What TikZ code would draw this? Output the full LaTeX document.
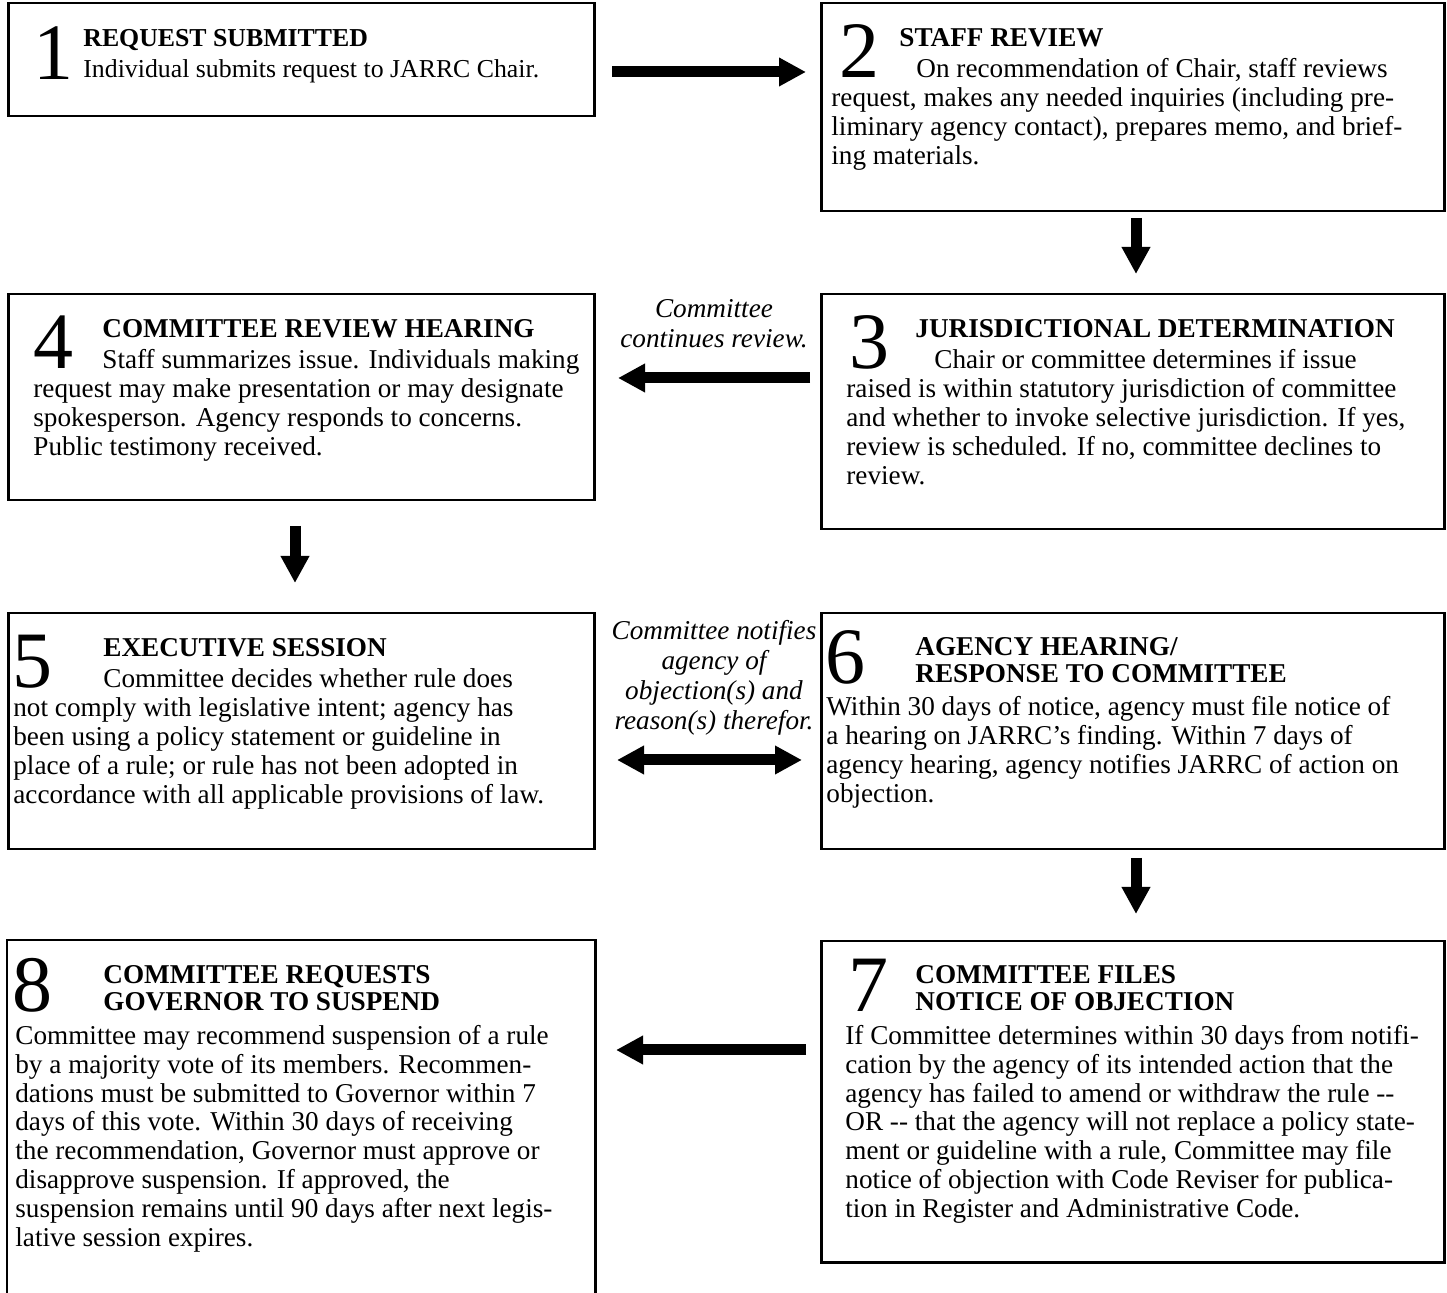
\documentclass[tikz,border=0pt]{standalone}
\usepackage{fontspec}
\setmainfont{Liberation Serif}
\usepackage{tikz}
\usetikzlibrary{arrows.meta, calc, positioning}

\newcommand{\boxfont}{\fontsize{13.6}{14.5}\selectfont}
\newcommand{\digitfont}{\fontsize{40}{40}\selectfont}
% lines of a box, baseline on the first line
\newcommand{\steplines}[1]{\begin{tabular}[t]{@{}l@{}}#1\end{tabular}}
\newcommand{\notelines}[1]{\begin{tabular}[t]{@{}c@{}}#1\end{tabular}}

\tikzset{
    stepbox/.style={rectangle, draw, line width=1.25pt, anchor=north west, inner sep=0pt},
    stepnum/.style={anchor=base west, inner sep=0pt, font=\digitfont},
    steptext/.style={anchor=base west, inner sep=0pt, font=\boxfont},
    note/.style={anchor=base, inner sep=0pt, font=\boxfont\itshape},
    bigarrow/.style={line width=5.5pt, -{Triangle[length=13.5pt, width=13.5pt]}},
    twoarrow/.style={line width=5.5pt, {Triangle[length=13.5pt, width=13.5pt]}-{Triangle[length=13.5pt, width=13.5pt]}}
}

\begin{document}
\begin{tikzpicture}[x=1pt, y=-1pt]
    \useasboundingbox (0,0) rectangle (723.5,646.5);

    % Row 1
    \node[stepbox, minimum width=293pt, minimum height=56.5pt] (b1) at (3.5,1) {};
    \node[stepnum] (n1) at ($(b1.north west)+(13,39)$) {1};
    \node[steptext, font=\fontsize{12.9}{14.5}\selectfont] (h1) at ($(b1.north west)+(38,22.5)$) {\steplines{\textbf{REQUEST SUBMITTED}\\[1pt]
        Individual submits request to JARRC Chair.}};

    \node[stepbox, minimum width=311.5pt, minimum height=104pt] (b2) at (410,1) {};
    \node[stepnum] (n2) at ($(b2.north west)+(9.5,38)$) {2};
    \node[steptext] (h2) at ($(b2.north west)+(39.5,22.5)$) {\steplines{\textbf{STAFF REVIEW}\\[1pt]
        \hspace*{8.5pt}On recommendation of Chair, staff reviews}};
    \node[steptext] (t2) at ($(b2.north west)+(5.5,52.5)$) {\steplines{request, makes any needed inquiries (including pre-\\
        liminary agency contact), prepares memo, and brief-\\
        ing materials.}};

    % Row 2
    \node[stepbox, minimum width=311.5pt, minimum height=117.5pt] (b3) at (410,146.5) {};
    \node[stepnum] (n3) at ($(b3.north west)+(14.5,38)$) {3};
    \node[steptext] (h3) at ($(b3.north west)+(47.5,22.5)$) {\steplines{\textbf{JURISDICTIONAL DETERMINATION}\\[1pt]
        \hspace*{9.5pt}Chair or committee determines if issue}};
    \node[steptext] (t3) at ($(b3.north west)+(13,52.5)$) {\steplines{raised is within statutory jurisdiction of committee\\
        and whether to invoke selective jurisdiction. If yes,\\
        review is scheduled. If no, committee declines to\\
        review.}};

    \node[stepbox, minimum width=293pt, minimum height=103pt] (b4) at (3.5,146.5) {};
    \node[stepnum] (n4) at ($(b4.north west)+(13,38)$) {4};
    \node[steptext] (h4) at ($(b4.north west)+(47.5,22.5)$) {\steplines{\textbf{COMMITTEE REVIEW HEARING}\\[1pt]
        Staff summarizes issue. Individuals making}};
    \node[steptext] (t4) at ($(b4.north west)+(13,52.5)$) {\steplines{request may make presentation or may designate\\
        spokesperson. Agency responds to concerns.\\
        Public testimony received.}};

    % Row 3
    \node[stepbox, minimum width=293pt, minimum height=118pt] (b5) at (3.5,306) {};
    \node[stepnum] (n5) at ($(b5.north west)+(2.5,38)$) {5};
    \node[steptext] (h5) at ($(b5.north west)+(48,22.5)$) {\steplines{\textbf{EXECUTIVE SESSION}\\[1pt]
        Committee decides whether rule does}};
    \node[steptext] (t5) at ($(b5.north west)+(3,52.5)$) {\steplines{not comply with legislative intent; agency has\\
        been using a policy statement or guideline in\\
        place of a rule; or rule has not been adopted in\\
        accordance with all applicable provisions of law.}};

    \node[stepbox, minimum width=311.5pt, minimum height=118pt] (b6) at (410,306) {};
    \node[stepnum] (n6) at ($(b6.north west)+(2.5,36)$) {6};
    \node[steptext] (h6) at ($(b6.north west)+(47.5,22)$) {\steplines{\textbf{AGENCY HEARING/}\\[-1pt]\textbf{RESPONSE TO COMMITTEE}}};
    \node[steptext] (t6) at ($(b6.north west)+(3,52)$) {\steplines{Within 30 days of notice, agency must file notice of\\
        a hearing on JARRC’s finding. Within 7 days of\\
        agency hearing, agency notifies JARRC of action on\\
        objection.}};

    % Row 4
    \node[stepbox, minimum width=311.5pt, minimum height=160.5pt] (b7) at (410,470) {};
    \node[stepnum] (n7) at ($(b7.north west)+(14,36)$) {7};
    \node[steptext] (h7) at ($(b7.north west)+(47.5,22)$) {\steplines{\textbf{COMMITTEE FILES}\\[-1pt]\textbf{NOTICE OF OBJECTION}}};
    \node[steptext] (t7) at ($(b7.north west)+(12.5,52)$) {\steplines{If Committee determines within 30 days from notifi-\\
        cation by the agency of its intended action that the\\
        agency has failed to amend or withdraw the rule -{}-\\
        OR -{}- that the agency will not replace a policy state-\\
        ment or guideline with a rule, Committee may file\\
        notice of objection with Code Reviser for publica-\\
        tion in Register and Administrative Code.}};

    \node[stepbox, draw=none, minimum width=293pt, minimum height=176.5pt] (b8) at (3.5,470) {};
    \draw[line width=1.25pt] (b8.south west) -- (b8.north west) -- (b8.north east) -- (b8.south east);
    \node[stepnum] (n8) at ($(b8.north west)+(2.5,36)$) {8};
    \node[steptext] (h8) at ($(b8.north west)+(48,22)$) {\steplines{\textbf{COMMITTEE REQUESTS}\\[-1pt]\textbf{GOVERNOR TO SUSPEND}}};
    \node[steptext] (t8) at ($(b8.north west)+(4,52)$) {\steplines{Committee may recommend suspension of a rule\\
        by a majority vote of its members. Recommen-\\
        dations must be submitted to Governor within 7\\
        days of this vote. Within 30 days of receiving\\
        the recommendation, Governor must approve or\\
        disapprove suspension. If approved, the\\
        suspension remains until 90 days after next legis-\\
        lative session expires.}};

    % Notes between boxes
    \node[note] (l34) at (357,159) {\notelines{Committee\\[0.5pt]continues review.}};
    \node[note] (l56) at (357,320) {\notelines{Committee notifies\\[0.5pt]agency of\\[0.5pt]objection(s) and\\[0.5pt]reason(s) therefor.}};

    % Arrows
    \coordinate (a12s) at (306,36);    \coordinate (a12e) at (403,36);
    \coordinate (a23s) at (568,109);   \coordinate (a23e) at (568,137);
    \coordinate (a34s) at (405,189);   \coordinate (a34e) at (309,189);
    \coordinate (a45s) at (147.5,263); \coordinate (a45e) at (147.5,291.5);
    \coordinate (a56s) at (308.5,380); \coordinate (a56e) at (401,380);
    \coordinate (a67s) at (568,429);   \coordinate (a67e) at (568,457);
    \coordinate (a78s) at (403,525);   \coordinate (a78e) at (308,525);

    \foreach \s/\e in {a12s/a12e, a23s/a23e, a34s/a34e, a45s/a45e, a67s/a67e, a78s/a78e}
        \draw[bigarrow] (\s) -- (\e);
    \draw[twoarrow] (a56s) -- (a56e);
\end{tikzpicture}
\end{document}
